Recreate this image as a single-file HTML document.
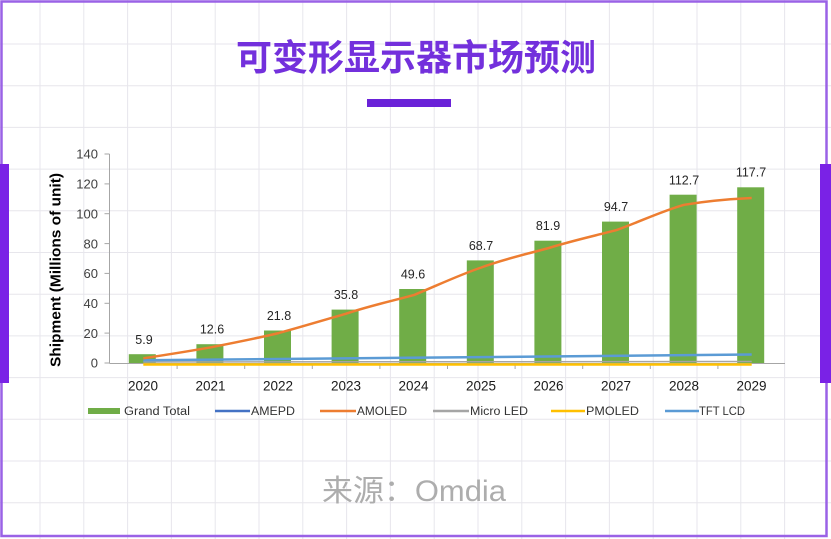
<!DOCTYPE html>
<html><head><meta charset="utf-8"><style>
html,body{margin:0;padding:0;background:#fff;}
body{width:831px;height:539px;overflow:hidden;}
svg{display:block;}
</style></head><body>
<svg width="831" height="539" viewBox="0 0 831 539" xmlns="http://www.w3.org/2000/svg">
<rect x="0" y="0" width="831" height="539" fill="#fff"/>
<g stroke="#e7e6ec" stroke-width="1">
<line x1="40" y1="0" x2="40" y2="539"/><line x1="83.8" y1="0" x2="83.8" y2="539"/><line x1="127.6" y1="0" x2="127.6" y2="539"/><line x1="171.4" y1="0" x2="171.4" y2="539"/><line x1="215.2" y1="0" x2="215.2" y2="539"/><line x1="259" y1="0" x2="259" y2="539"/><line x1="302.8" y1="0" x2="302.8" y2="539"/><line x1="346.6" y1="0" x2="346.6" y2="539"/><line x1="390.4" y1="0" x2="390.4" y2="539"/><line x1="434.2" y1="0" x2="434.2" y2="539"/><line x1="478" y1="0" x2="478" y2="539"/><line x1="521.8" y1="0" x2="521.8" y2="539"/><line x1="565.6" y1="0" x2="565.6" y2="539"/><line x1="609.4" y1="0" x2="609.4" y2="539"/><line x1="653.2" y1="0" x2="653.2" y2="539"/><line x1="697" y1="0" x2="697" y2="539"/><line x1="740.8" y1="0" x2="740.8" y2="539"/><line x1="784.6" y1="0" x2="784.6" y2="539"/>
<line x1="0" y1="44" x2="831" y2="44"/><line x1="0" y1="85.7" x2="831" y2="85.7"/><line x1="0" y1="127.4" x2="831" y2="127.4"/><line x1="0" y1="169.1" x2="831" y2="169.1"/><line x1="0" y1="210.8" x2="831" y2="210.8"/><line x1="0" y1="252.5" x2="831" y2="252.5"/><line x1="0" y1="294.2" x2="831" y2="294.2"/><line x1="0" y1="335.9" x2="831" y2="335.9"/><line x1="0" y1="377.6" x2="831" y2="377.6"/><line x1="0" y1="419.3" x2="831" y2="419.3"/><line x1="0" y1="461" x2="831" y2="461"/><line x1="0" y1="502.7" x2="831" y2="502.7"/>
</g>
<!-- frame -->
<rect x="1.5" y="1.5" width="825" height="534.5" fill="none" stroke="#9a62e6" stroke-width="2.5"/>
<rect x="0" y="164" width="9" height="219" fill="#7a22e6"/>
<rect x="820" y="164" width="11" height="219" fill="#7a22e6"/>
<!-- title -->
<text x="416" y="70" text-anchor="middle" font-family="'Liberation Sans','Noto Sans CJK SC',sans-serif" font-weight="bold" font-size="36" fill="#7330dc">可变形显示器市场预测</text>
<rect x="367" y="99" width="84" height="8" fill="#6a22d8"/>
<!-- y axis -->
<g stroke="#a6a6a6" stroke-width="1">
<line x1="109.5" y1="154" x2="109.5" y2="363"/>
<line x1="104.5" y1="154" x2="109.5" y2="154"/><line x1="104.5" y1="183.9" x2="109.5" y2="183.9"/><line x1="104.5" y1="213.7" x2="109.5" y2="213.7"/><line x1="104.5" y1="243.6" x2="109.5" y2="243.6"/><line x1="104.5" y1="273.4" x2="109.5" y2="273.4"/><line x1="104.5" y1="303.3" x2="109.5" y2="303.3"/><line x1="104.5" y1="333.1" x2="109.5" y2="333.1"/><line x1="104.5" y1="363" x2="109.5" y2="363"/>
<line x1="109.5" y1="363.5" x2="785" y2="363.5"/>
<line x1="177.1" y1="363" x2="177.1" y2="369"/><line x1="244.7" y1="363" x2="244.7" y2="369"/><line x1="312.3" y1="363" x2="312.3" y2="369"/><line x1="379.9" y1="363" x2="379.9" y2="369"/><line x1="447.5" y1="363" x2="447.5" y2="369"/><line x1="515.1" y1="363" x2="515.1" y2="369"/><line x1="582.7" y1="363" x2="582.7" y2="369"/><line x1="650.3" y1="363" x2="650.3" y2="369"/><line x1="717.9" y1="363" x2="717.9" y2="369"/>
</g>
<g font-family="'Liberation Sans',sans-serif" font-size="13" fill="#404040" text-anchor="end">
<text x="98" y="158.7">140</text><text x="98" y="188.6">120</text><text x="98" y="218.4">100</text><text x="98" y="248.3">80</text><text x="98" y="278.1">60</text><text x="98" y="308">40</text><text x="98" y="337.8">20</text><text x="98" y="367.7">0</text>
</g>
<text transform="translate(60.5,270) rotate(-90)" text-anchor="middle" font-family="'Liberation Sans',sans-serif" font-weight="bold" font-size="15" fill="#000" textLength="194" lengthAdjust="spacingAndGlyphs">Shipment (Millions of unit)</text>
<!-- bars -->
<g fill="#70ad47">
<rect x="128.8" y="354.2" width="27" height="8.8"/>
<rect x="196.4" y="344.2" width="27" height="18.8"/>
<rect x="264" y="330.5" width="27" height="32.5"/>
<rect x="331.6" y="309.6" width="27" height="53.4"/>
<rect x="399.2" y="289" width="27" height="74"/>
<rect x="466.8" y="260.4" width="27" height="102.6"/>
<rect x="534.4" y="240.7" width="27" height="122.3"/>
<rect x="602" y="221.6" width="27" height="141.4"/>
<rect x="669.6" y="194.7" width="27" height="168.3"/>
<rect x="737.2" y="187.3" width="27" height="175.7"/>
</g>
<!-- lines -->
<path d="M143.3,364.5 L751.7,364.5" stroke="#ffc000" stroke-width="2.5" fill="none"/>
<path d="M143.3,362 L751.7,361.5" stroke="#a5a5a5" stroke-width="1.5" fill="none"/>
<path d="M143.3,360.3 C300,358.8 500,357.5 751.7,354.5" stroke="#5b9bd5" stroke-width="2.5" fill="none"/>
<path d="M143.3,358.3 C165,355 190,351 210.9,347.3 C233,343 256,338.5 278.5,333.1 C301,327 324,320 346.1,313.7 C369,306 392,301 413.7,295.1 C436,286 459,275 481.3,267.5 C504,259 527,254 548.9,248 C571,241 594,236 616.5,230.1 C639,222 662,211 684.1,204.8 C707,201 730,199 751.7,198" stroke="#ed7d31" stroke-width="2.5" fill="none"/>
<!-- data labels -->
<g font-family="'Liberation Sans',sans-serif" font-size="12.5" fill="#262626" text-anchor="middle">
<text x="144" y="344">5.9</text>
<text x="212" y="333.5">12.6</text>
<text x="279" y="320">21.8</text>
<text x="346" y="299">35.8</text>
<text x="413" y="278.5">49.6</text>
<text x="481" y="250">68.7</text>
<text x="548" y="230">81.9</text>
<text x="616" y="211">94.7</text>
<text x="684" y="184.5">112.7</text>
<text x="751" y="176.5">117.7</text>
</g>
<!-- x labels -->
<g font-family="'Liberation Sans',sans-serif" font-size="13.5" fill="#1a1a1a" text-anchor="middle">
<text x="143" y="390.5">2020</text><text x="210.5" y="390.5">2021</text><text x="278" y="390.5">2022</text><text x="346" y="390.5">2023</text><text x="413.5" y="390.5">2024</text><text x="481" y="390.5">2025</text><text x="548.5" y="390.5">2026</text><text x="616" y="390.5">2027</text><text x="684" y="390.5">2028</text><text x="751.5" y="390.5">2029</text>
</g>
<!-- legend -->
<rect x="88" y="408" width="32" height="6" fill="#70ad47"/>
<line x1="215" y1="411" x2="250" y2="411" stroke="#4472c4" stroke-width="2.5"/>
<line x1="320" y1="411" x2="356" y2="411" stroke="#ed7d31" stroke-width="2.5"/>
<line x1="433" y1="411" x2="469" y2="411" stroke="#a5a5a5" stroke-width="2.5"/>
<line x1="551" y1="411" x2="585" y2="411" stroke="#ffc000" stroke-width="2.5"/>
<line x1="665" y1="411" x2="699" y2="411" stroke="#5b9bd5" stroke-width="2.5"/>
<g font-family="'Liberation Sans',sans-serif" font-size="11.5" fill="#333">
<text x="124" y="415" textLength="66" lengthAdjust="spacingAndGlyphs">Grand Total</text>
<text x="251" y="415" textLength="44" lengthAdjust="spacingAndGlyphs">AMEPD</text>
<text x="357" y="415" textLength="50" lengthAdjust="spacingAndGlyphs">AMOLED</text>
<text x="470" y="415" textLength="58" lengthAdjust="spacingAndGlyphs">Micro LED</text>
<text x="586" y="415" textLength="53" lengthAdjust="spacingAndGlyphs">PMOLED</text>
<text x="699" y="415" textLength="46" lengthAdjust="spacingAndGlyphs">TFT LCD</text>
</g>
<!-- source -->
<text x="414" y="501" text-anchor="middle" font-family="'Liberation Sans','Noto Sans CJK SC',sans-serif" font-size="30" fill="#adadad" textLength="184" lengthAdjust="spacingAndGlyphs">来源：Omdia</text>
</svg>
</body></html>
